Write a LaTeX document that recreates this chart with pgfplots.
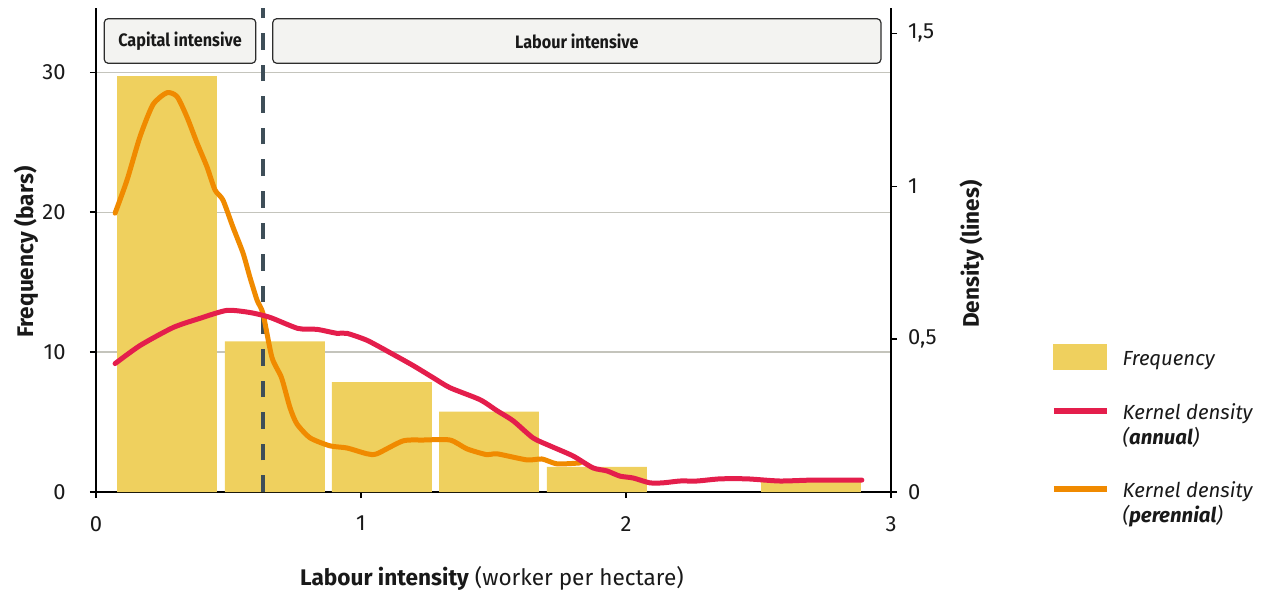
\documentclass[border=0pt]{standalone}
\usepackage{fontspec}
\setmainfont{Fira Sans}
\usepackage{graphicx}
\usepackage{pgfplots}
\pgfplotsset{compat=1.18}
\definecolor{barc}{RGB}{239,208,94}
\definecolor{annualc}{RGB}{228,30,76}
\definecolor{perenc}{RGB}{240,138,0}
\definecolor{dashc}{RGB}{62,78,88}
\definecolor{gridc}{RGB}{196,196,188}
\definecolor{boxfill}{RGB}{243,243,241}
\definecolor{boxdraw}{RGB}{45,45,45}
\definecolor{txt}{RGB}{25,25,25}

\begin{document}
\begin{tikzpicture}
\pgfplotsset{
  base/.style={
    width=397.5pt, height=241.85pt, scale only axis,
    xmin=0, xmax=3, ymin=0,
    tick align=outside, major tick length=3pt,
    tick style={black, line width=0.75pt},
    axis line style={black, line width=0.75pt},
    /pgf/number format/assume math mode=true,
    ticklabel style={font=\fontsize{11}{13}\selectfont, text=txt},
  }
}
\begin{axis}[base, ymax=34.57,
  axis x line*=bottom, axis y line*=left,
  xtick={0,1,2,3}, ytick={0,10,20,30},
  ymajorgrids, grid style={gridc, line width=0.6pt},
  xticklabel style={yshift=-5.5pt},
  yticklabel style={xshift=-8.7pt},
  xlabel={\textbf{Labour intensity} (worker per hectare)},
  every axis x label/.style={at={(axis description cs:0.498,-0.178)}, anchor=center, font=\fontsize{11.3}{13}\selectfont, text=txt},
  ylabel={\textbf{Frequency (bars)}},
  every axis y label/.style={at={(axis description cs:-0.0881,0.496)}, rotate=90, anchor=center, font=\fontsize{11.3}{13}\selectfont, text=txt},
]
\addplot[ybar, bar width=0.377, fill=barc, draw=none]
  coordinates {(0.268,29.72) (0.675,10.77) (1.079,7.85) (1.483,5.75) (1.89,1.80) (2.698,0.75)};
\draw[dashc, line width=1.6pt, dash pattern=on 8.3pt off 7.5pt] (axis cs:0.63,0) -- (axis cs:0.63,34.57);
\draw[boxdraw, fill=boxfill, line width=0.6pt, rounded corners=2pt]
  (axis cs:0.031,30.64) rectangle (axis cs:0.603,33.83);
\draw[boxdraw, fill=boxfill, line width=0.6pt, rounded corners=2pt]
  (axis cs:0.667,30.64) rectangle (axis cs:2.962,33.83);
\node[font=\fontsize{9}{11}\selectfont\bfseries, text=txt] at (axis cs:0.317,32.2) {\scalebox{0.9}[1]{Capital intensive}};
\node[font=\fontsize{9}{11}\selectfont\bfseries, text=txt] at (axis cs:1.8145,32.2) {\scalebox{0.9}[1]{Labour intensive}};
\end{axis}
\begin{axis}[base, ymax=1.582,
  axis x line=none, axis y line*=right,
  ytick={0,0.5,1,1.5}, yticklabels={0,{0,5},1,{1,5}},
  yticklabel style={xshift=2pt},
  ylabel={\textbf{Density (lines)}},
  every axis y label/.style={at={(axis description cs:1.1015,0.492)}, rotate=90, anchor=center, font=\fontsize{11.3}{13}\selectfont, text=txt},
  legend style={draw=none, fill=none, inner sep=0pt, outer sep=0pt,
    at={(axis description cs:1.2013,0.3063)}, anchor=north west,
    row sep=13.3pt, column sep=4.5pt,
    cells={anchor=base west},
    nodes={font=\fontsize{10.2}{12.2}\selectfont\itshape, text=txt}},
]
\addlegendimage{legend image code/.code={\fill[barc] (0pt,-2pt) rectangle (26.5pt,10.5pt);}}
\addlegendentry{Frequency}
\addlegendimage{legend image code/.code={\draw[annualc, line width=2.8pt] (0pt,4.35pt) -- (26.5pt,4.35pt);}}
\addlegendentry{\begin{tabular}[t]{@{}l@{}}Kernel density\\(\textbf{annual})\end{tabular}}
\addlegendimage{legend image code/.code={\draw[perenc, line width=2.8pt] (0pt,4.35pt) -- (26.5pt,4.35pt);}}
\addlegendentry{\begin{tabular}[t]{@{}l@{}}\rule{0pt}{20.1pt}Kernel density\\(\textbf{perennial})\end{tabular}}
% perennial
\addplot[perenc, line width=2.5pt, smooth, tension=0.4, line cap=round, line join=round, forget plot] coordinates {
(0.072,0.912) (0.117,1.02) (0.166,1.162) (0.215,1.267) (0.268,1.306) (0.306,1.293)
(0.343,1.227) (0.381,1.142) (0.419,1.063) (0.449,0.988) (0.479,0.955) (0.517,0.866)
(0.555,0.781) (0.581,0.702) (0.608,0.627) (0.630,0.584) (0.664,0.440) (0.700,0.374)
(0.732,0.276) (0.758,0.223) (0.808,0.177) (0.883,0.151) (0.947,0.144) (1.023,0.125)
(1.060,0.125) (1.158,0.167) (1.234,0.170) (1.336,0.170) (1.400,0.141) (1.475,0.122)
(1.513,0.125) (1.626,0.105) (1.683,0.108) (1.740,0.092) (1.826,0.095)
};
% annual
\addplot[annualc, line width=2.5pt, smooth, tension=0.4, line cap=round, line join=round, forget plot] coordinates {
(0.072,0.420) (0.166,0.479) (0.291,0.538) (0.392,0.568) (0.494,0.594) (0.581,0.587)
(0.657,0.571) (0.762,0.535) (0.834,0.532) (0.909,0.519) (0.947,0.519) (1.023,0.496)
(1.109,0.456) (1.196,0.414) (1.272,0.374) (1.336,0.341) (1.449,0.302) (1.513,0.266)
(1.574,0.233) (1.649,0.177) (1.713,0.151) (1.800,0.118) (1.875,0.079) (1.928,0.069)
(1.977,0.052) (2.026,0.046) (2.090,0.030) (2.140,0.030) (2.204,0.036) (2.268,0.036)
(2.355,0.043) (2.457,0.043) (2.580,0.036) (2.706,0.039) (2.890,0.039)
};
\end{axis}
\pgfresetboundingbox
\path (-48pt,-49.5pt) rectangle (583pt,246pt);
\end{tikzpicture}
\end{document}
